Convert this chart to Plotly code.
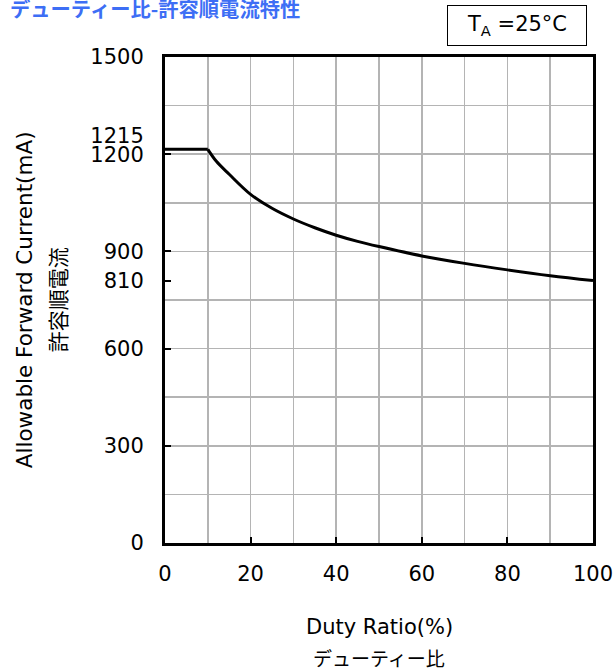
import plotly.graph_objects as go

# Data
duty_ratio = [0, 10, 12, 15, 20, 25, 30, 35, 40, 45, 50, 60, 70, 80, 90, 100]
forward_current = [1215, 1215, 1178, 1138, 1076, 1033, 1000, 973, 950, 931, 915, 886, 863, 843, 825, 810]

x_tickvals = [0, 20, 40, 60, 80, 100]
y_tickvals = [0, 300, 600, 810, 900, 1200, 1215, 1500]
y_ticktext = ["0", "300", "600", "810", "900", "1200", "1215<br>&nbsp;", "1500"]

title_text = "デューティー比-許容順電流特性"
temp_text = "T<sub>A</sub> =25°C"
x_title_en = "Duty Ratio(%)"
x_title_jp = "デューティー比"
y_title_en = "Allowable Forward Current(mA)"
y_title_jp = "許容順電流"

LATIN = "DejaVu Sans"
CJK = "Noto Sans CJK JP"
GRID = "#b4b4b4"

fig = go.Figure()
# flat (pulse-limited) part
fig.add_trace(go.Scatter(
    x=duty_ratio[:2], y=forward_current[:2], mode="lines",
    line=dict(color="black", width=3), showlegend=False, hoverinfo="skip",
))
# derated curve
fig.add_trace(go.Scatter(
    x=duty_ratio[1:], y=forward_current[1:], mode="lines",
    line=dict(color="black", width=3, shape="spline", smoothing=1.0),
    showlegend=False, hoverinfo="skip",
))
# invisible trace on overlay axes so they render grids
fig.add_trace(go.Scatter(x=[0], y=[0], xaxis="x2", yaxis="y2", mode="markers",
                         marker=dict(opacity=0), showlegend=False, hoverinfo="skip"))

fig.update_layout(
    width=614, height=670, autosize=False,
    margin=dict(l=165, r=21, t=57, b=127, autoexpand=False),
    paper_bgcolor="white", plot_bgcolor="white",
    font=dict(family=LATIN, size=21, color="black"),
    xaxis=dict(
        range=[0, 100], tickmode="array", tickvals=x_tickvals,
        showgrid=False, zeroline=False, automargin=False,
        showline=True, linecolor="black", linewidth=3, mirror=True,
        ticks="inside", ticklen=6, tickwidth=2, tickcolor="black",
        ticklabelstandoff=10,
        tickfont=dict(family=LATIN, size=21),
    ),
    yaxis=dict(
        range=[0, 1500], tickmode="array", tickvals=y_tickvals, ticktext=y_ticktext,
        showgrid=False, zeroline=False, automargin=False,
        showline=True, linecolor="black", linewidth=3, mirror=True,
        ticks="inside", ticklen=6, tickwidth=2, tickcolor="black",
        ticklabelstandoff=14,
        tickfont=dict(family=LATIN, size=21),
    ),
    xaxis2=dict(
        overlaying="x", anchor="y", range=[0, 100], dtick=10, tick0=0,
        showgrid=True, gridcolor=GRID, gridwidth=1.5, automargin=False,
        showticklabels=False, ticks="", zeroline=False, showline=False,
    ),
    yaxis2=dict(
        overlaying="y", anchor="x", range=[0, 1500], dtick=150, tick0=0,
        showgrid=True, gridcolor=GRID, gridwidth=1.5, automargin=False,
        showticklabels=False, ticks="", zeroline=False, showline=False,
    ),
)

annotations = [
    dict(text="<b>" + title_text + "</b>", xref="paper", yref="paper",
         x=-0.367, y=1.101, xanchor="left", yanchor="middle", showarrow=False,
         font=dict(family=CJK, size=20.3, color="#3d6ef5")),
    dict(text=temp_text, xref="paper", yref="paper",
         x=0.986, y=1.107, xanchor="right", yanchor="top", showarrow=False,
         width=136, height=37, align="center", valign="middle",
         bordercolor="black", borderwidth=1, bgcolor="white",
         font=dict(family=LATIN, size=21, color="black")),
    dict(text=x_title_en, xref="paper", yref="paper",
         x=0.5, y=-0.173, xanchor="center", yanchor="middle", showarrow=False,
         font=dict(family=LATIN, size=21)),
    dict(text=x_title_jp, xref="paper", yref="paper",
         x=0.5, y=-0.235, xanchor="center", yanchor="middle", showarrow=False,
         font=dict(family=CJK, size=19)),
    dict(text=y_title_en, xref="paper", yref="paper",
         x=-0.329, y=0.5, xanchor="center", yanchor="middle", showarrow=False,
         textangle=-90, font=dict(family=LATIN, size=21.5)),
    dict(text=y_title_jp, xref="paper", yref="paper",
         x=-0.252, y=0.5, xanchor="center", yanchor="middle", showarrow=False,
         textangle=-90, font=dict(family=CJK, size=21)),
]
fig.update_layout(annotations=annotations)

fig.write_html(
    "out.html",
    config={"displayModeBar": False, "responsive": False, "staticPlot": True},
    post_script="document.body.style.margin='0';document.body.style.padding='0';document.body.style.overflow='hidden';",
)
